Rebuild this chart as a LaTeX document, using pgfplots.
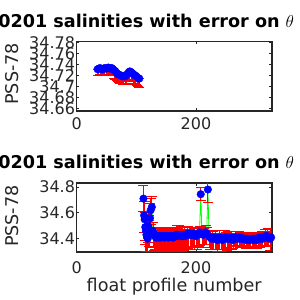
\documentclass[border=0pt]{standalone}
\usepackage{pgfplots}
\pgfplotsset{compat=1.18}
\usepackage{pgfplotstable}
\usepackage{fontspec}
\setmainfont{DejaVu Sans}
\definecolor{axgray}{RGB}{38,38,38}
\definecolor{mgreen}{RGB}{0,255,0}
\definecolor{mred}{RGB}{255,0,0}
\definecolor{mblue}{RGB}{0,0,255}

\pgfplotstableread{
x sal map err
35 34.731 34.725 0.006
37 34.732 34.726 0.006
39 34.733 34.727 0.006
41 34.732 34.726 0.006
43 34.731 34.725 0.006
45 34.732 34.726 0.006
47 34.733 34.727 0.006
49 34.732 34.726 0.006
51 34.733 34.727 0.006
53 34.734 34.728 0.006
55 34.733 34.727 0.006
57 34.732 34.726 0.006
59 34.733 34.727 0.006
61 34.731 34.725 0.006
63 34.729 34.722 0.007
65 34.727 34.720 0.007
67 34.724 34.717 0.007
69 34.722 34.715 0.007
71 34.721 34.714 0.007
73 34.720 34.713 0.007
75 34.719 34.712 0.007
77 34.718 34.711 0.007
79 34.719 34.712 0.007
81 34.718 34.711 0.007
83 34.720 34.713 0.007
85 34.722 34.715 0.007
87 34.725 34.718 0.007
89 34.727 34.720 0.007
91 34.726 34.719 0.007
93 34.724 34.716 0.008
95 34.722 34.714 0.008
97 34.720 34.712 0.008
99 34.719 34.711 0.008
101 34.717 34.709 0.008
103 34.715 34.707 0.008
105 34.714 34.706 0.008
}\toptable

\pgfplotstableread{
x sal map err
112 34.71 34.71 0.10
113 34.58 34.57 0.12
114 34.55 34.54 0.15
115 34.49 34.48 0.12
116 34.46 34.45 0.15
117 34.43 34.42 0.12
118 34.41 34.40 0.10
119 34.40 34.39 0.10
120 34.50 34.49 0.12
121 34.45 34.44 0.10
122 34.47 34.46 0.12
123 34.56 34.55 0.12
124 34.62 34.61 0.10
126 34.645 34.63 0.10
128 34.46 34.43 0.10
130 34.43 34.40 0.09
131 34.42 34.39 0.07
132 34.42 34.39 0.10
133 34.41 34.38 0.08
134 34.41 34.38 0.06
135 34.42 34.39 0.095
136 34.42 34.39 0.075
137 34.41 34.38 0.085
138 34.41 34.38 0.10
139 34.42 34.39 0.065
140 34.42 34.39 0.09
141 34.41 34.38 0.07
142 34.41 34.38 0.10
143 34.42 34.39 0.08
144 34.42 34.39 0.06
145 34.42 34.39 0.095
146 34.42 34.39 0.075
147 34.41 34.38 0.085
148 34.41 34.38 0.10
149 34.42 34.39 0.065
150 34.42 34.39 0.09
151 34.42 34.39 0.07
152 34.42 34.39 0.10
153 34.41 34.38 0.08
154 34.41 34.38 0.06
155 34.42 34.39 0.095
156 34.42 34.39 0.075
157 34.42 34.39 0.085
158 34.42 34.39 0.10
159 34.42 34.39 0.065
160 34.42 34.39 0.09
161 34.41 34.38 0.07
162 34.41 34.38 0.10
163 34.42 34.39 0.08
164 34.42 34.39 0.06
165 34.42 34.39 0.095
166 34.42 34.39 0.075
167 34.43 34.40 0.085
168 34.43 34.40 0.10
169 34.42 34.39 0.065
170 34.42 34.39 0.09
171 34.43 34.40 0.07
172 34.43 34.40 0.10
173 34.42 34.39 0.08
174 34.42 34.39 0.06
175 34.43 34.40 0.095
176 34.43 34.40 0.075
177 34.42 34.39 0.085
178 34.42 34.39 0.10
179 34.43 34.40 0.065
180 34.43 34.40 0.09
182 34.42 34.39 0.075
184 34.43 34.40 0.06
186 34.44 34.41 0.085
188 34.43 34.40 0.07
190 34.44 34.41 0.08
192 34.43 34.40 0.065
194 34.43 34.40 0.085
196 34.44 34.41 0.07
198 34.43 34.40 0.08
200 34.42 34.39 0.06
202 34.43 34.40 0.085
204 34.44 34.41 0.07
206 34.45 34.42 0.075
208 34.744 34.744 0.05
210 34.44 34.42 0.065
212 34.43 34.41 0.075
214 34.44 34.42 0.06
216 34.45 34.43 0.07
218 34.44 34.42 0.065
220 34.78 34.78 0.10
222 34.42 34.40 0.065
224 34.41 34.39 0.075
226 34.40 34.38 0.06
228 34.41 34.39 0.07
230 34.40 34.38 0.065
232 34.41 34.39 0.075
234 34.40 34.38 0.06
236 34.39 34.37 0.07
238 34.40 34.38 0.065
240 34.41 34.39 0.075
242 34.40 34.38 0.06
244 34.39 34.37 0.07
246 34.40 34.38 0.065
248 34.41 34.39 0.075
250 34.41 34.39 0.06
252 34.40 34.38 0.07
254 34.41 34.39 0.065
256 34.40 34.38 0.06
258 34.41 34.39 0.065
260 34.40 34.38 0.06
262 34.39 34.38 0.055
264 34.40 34.39 0.05
266 34.41 34.40 0.06
268 34.41 34.40 0.055
270 34.40 34.39 0.05
272 34.41 34.40 0.06
274 34.40 34.39 0.055
276 34.41 34.40 0.05
278 34.40 34.39 0.055
280 34.40 34.39 0.06
282 34.40 34.39 0.05
284 34.39 34.38 0.055
286 34.40 34.39 0.06
288 34.40 34.39 0.05
290 34.39 34.38 0.055
292 34.40 34.39 0.06
294 34.40 34.39 0.05
296 34.39 34.38 0.055
298 34.40 34.39 0.06
300 34.40 34.39 0.05
302 34.39 34.38 0.055
304 34.40 34.39 0.06
306 34.41 34.40 0.05
308 34.40 34.39 0.055
310 34.41 34.40 0.06
312 34.40 34.39 0.05
314 34.41 34.40 0.055
316 34.42 34.41 0.06
318 34.41 34.40 0.05
320 34.42 34.41 0.07
322 34.41 34.40 0.06
324 34.40 34.39 0.08
326 34.41 34.40 0.06
328 34.40 34.39 0.05
}\bottable

\pgfplotsset{
  mystyle/.style={
    scale only axis, width=195pt,
    xmin=0, xmax=327,
    xtick={0,200},
    tick align=inside,
    axis line style={draw=axgray, line width=1.6pt},
    tick style={draw=axgray, line width=0.8pt},
    major tick length=2.5pt,
    ticklabel style={font=\fontsize{16}{16}\selectfont, text=axgray},
    /pgf/number format/assume math mode=true,
    yticklabel style={inner xsep=1.5pt},
    label style={font=\fontsize{17.6}{17.6}\selectfont, text=axgray},
    title style={font=\bfseries\fontsize{17.6}{17.6}\selectfont, text=black,
      at={(axis description cs:1.133,1)}, anchor=base east, yshift=8.5pt},
    ylabel={PSS-78},
  },
  errstyle/.style={draw=none, mark=none,
    error bars/.cd, y dir=both, y explicit,
    error bar style={draw=mred, line width=0.8pt},
    error mark options={draw=mred, rotate=90, mark size=5pt, line width=0.8pt}},
  linestyle/.style={draw=mgreen, line width=0.8pt, mark=none},
  dotstyle/.style={only marks, mark=*, mark size=3.8pt, mark options={draw=mblue, fill=mblue}},
}

\begin{document}
\begin{tikzpicture}
\useasboundingbox (0,0) rectangle (300pt,300pt);

\begin{axis}[mystyle,
  at={(76.7pt,189pt)}, anchor=south west,
  height=69.3pt,
  ymin=34.655, ymax=34.781,
  ytick={34.66,34.68,34.70,34.72,34.74,34.76,34.78},
  yticklabels={34.66,34.68,34.7,34.72,34.74,34.76,34.78},
  xticklabel style={inner ysep=6.5pt},
  ylabel style={at={(axis description cs:-0.333,0.537)}, anchor=center},
  title={6900201 salinities with error on \mdseries$\theta$},
]
\addplot[linestyle] table[x=x, y=sal] {\toptable};
\addplot[errstyle] table[x=x, y=map, y error=err] {\toptable};
\addplot[dotstyle] table[x=x, y=sal] {\toptable};
\end{axis}

\begin{axis}[mystyle,
  at={(76.7pt,48.3pt)}, anchor=south west,
  height=68.4pt,
  ymin=34.3, ymax=34.828,
  ytick={34.4,34.6,34.8},
  yticklabels={34.4,34.6,34.8},
  xticklabel style={inner ysep=9.5pt},
  ylabel style={at={(axis description cs:-0.333,0.52)}, anchor=center},
  xlabel={float profile number},
  xlabel style={at={(axis description cs:0.5,-0.585)}, anchor=base},
  title={6900201 salinities with error on \mdseries$\theta$},
]
\addplot[linestyle] table[x=x, y=sal] {\bottable};
\addplot[errstyle] table[x=x, y=map, y error=err] {\bottable};
\addplot[dotstyle] table[x=x, y=sal] {\bottable};
\end{axis}
\end{tikzpicture}
\end{document}
